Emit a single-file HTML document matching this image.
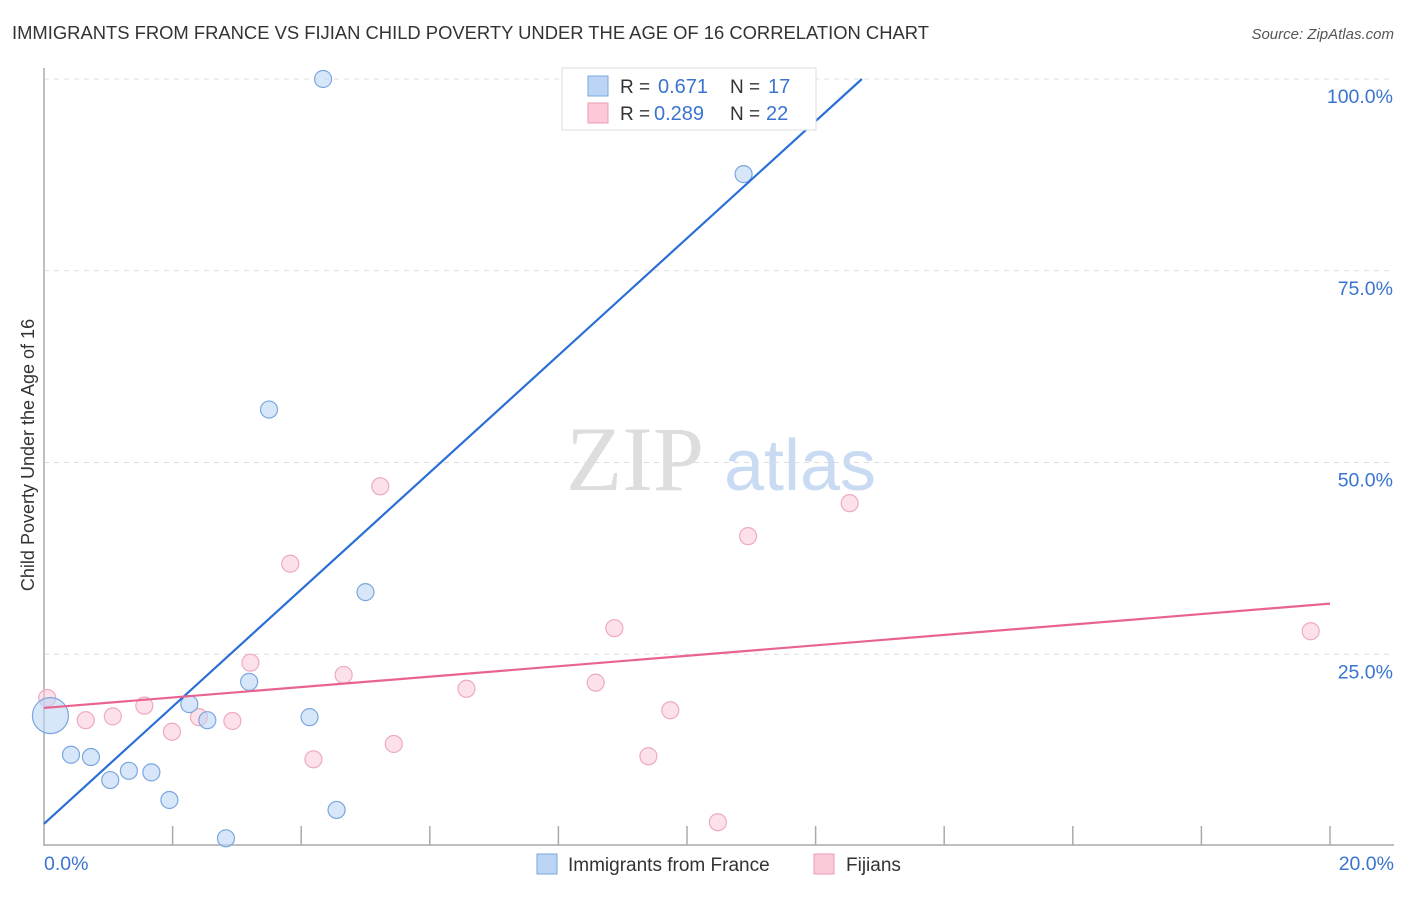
<!DOCTYPE html>
<html><head><meta charset="utf-8"><style>
body{margin:0;background:#fff;font-family:"Liberation Sans",sans-serif}
</style></head><body>
<svg width="1406" height="892" xmlns="http://www.w3.org/2000/svg" id="svg">
<text x="12" y="39" font-size="18.4" fill="#333">IMMIGRANTS FROM FRANCE VS FIJIAN CHILD POVERTY UNDER THE AGE OF 16 CORRELATION CHART</text>
<text x="1394" y="39" font-size="15" fill="#555" font-style="italic" text-anchor="end">Source: ZipAtlas.com</text>
<text transform="translate(34,455) rotate(-90)" font-size="18" fill="#333" text-anchor="middle">Child Poverty Under the Age of 16</text>
<g><text x="635" y="490" font-size="92" fill="#ddd" font-family="Liberation Serif" text-anchor="middle">ZIP</text><text x="800" y="490" font-size="72" fill="#c8dbf3" text-anchor="middle">atlas</text></g>
<g id="grid"></g><g id="marks"></g>
<g>
<rect x="562" y="68" width="254" height="62" fill="#fff" stroke="#ddd"/>
<rect x="588" y="76" width="20" height="20" fill="#bcd5f5" stroke="#7aa7e0"/>
<text x="620" y="93" font-size="19" fill="#333">R = </text><text x="658" y="93" font-size="20" fill="#3a74d0">0.671</text>
<text x="730" y="93" font-size="19" fill="#333">N = </text><text x="768" y="93" font-size="20" fill="#3a74d0">17</text>
<rect x="588" y="103" width="20" height="20" fill="#fbc9d8" stroke="#ee9ab5"/>
<text x="620" y="120" font-size="19" fill="#333">R = </text><text x="654" y="120" font-size="20" fill="#3a74d0">0.289</text>
<text x="730" y="120" font-size="19" fill="#333">N = </text><text x="766" y="120" font-size="20" fill="#3a74d0">22</text>
</g>
<g>
<rect x="537" y="854" width="20" height="20" fill="#bcd5f5" stroke="#7aa7e0"/>
<text x="568" y="871" font-size="19" fill="#333">Immigrants from France</text>
<rect x="814" y="854" width="20" height="20" fill="#fbc9d8" stroke="#ee9ab5"/>
<text x="846" y="871" font-size="19" fill="#333">Fijians</text>
</g>
</svg>
<script>
const yTicks=[25,50,75,100];
const yTickLabels=["25.0%","50.0%","75.0%","100.0%"];
const xTicks=[2,4,6,8,10,12,14,16,18,20];
const blueX=[4.34,10.88,3.50,5.00,3.19,2.26,2.54,4.13,0.42,0.73,1.32,1.67,1.03,1.95,4.55,2.83,0.1];
const blueY=[100,87.6,56.9,33.1,21.4,18.5,16.4,16.8,11.9,11.6,9.8,9.6,8.6,6.0,4.7,1.0,17.0];
const blueR=[8.5,8.5,8.5,8.5,8.5,8.5,8.5,8.5,8.5,8.5,8.5,8.5,8.5,8.5,8.5,8.5,18];
const pinkX=[0.05,0.65,1.07,1.56,1.99,2.41,2.93,3.21,3.83,4.19,4.66,5.23,5.44,6.57,8.58,8.87,9.40,9.74,10.48,10.95,12.53,19.70];
const pinkY=[19.3,16.4,16.9,18.3,14.9,16.8,16.3,23.9,36.8,11.3,22.3,46.9,13.3,20.5,21.3,28.4,11.7,17.7,3.1,40.4,44.7,28.0];
const blueLine=[0,2.9,12.72,100];
const pinkLine=[0,18.0,20,31.6];
const X=v=>44+v*64.3, Y=v=>846-v*7.67;
const NS="http://www.w3.org/2000/svg";
const g=document.getElementById('grid'), m=document.getElementById('marks');
function el(t,a,p){const e=document.createElementNS(NS,t);for(const k in a)e.setAttribute(k,a[k]);p.appendChild(e);return e;}
yTicks.forEach((t,i)=>{
 const l=el('line',{x1:44,x2:1394,y1:Y(t),y2:Y(t),stroke:'#ddd','stroke-dasharray':'5,5'},g);
 
 
 const tx=el('text',{x:1393,y:Y(t)+24,'font-size':19.5,fill:'#3a74d0','text-anchor':'end'},g);tx.textContent=yTickLabels[i];
 
 
});
el('line',{x1:44,x2:44,y1:68,y2:846,stroke:'#aaa','stroke-width':1.5},g);
el('line',{x1:44,x2:1394,y1:845,y2:845,stroke:'#aaa','stroke-width':1.5},g);
xTicks.forEach(t=>{const l=el('line',{x1:X(t),x2:X(t),y1:826,y2:845,stroke:'#aaa','stroke-width':1.5},g);
 
 });
let a=el('text',{x:44,y:870,'font-size':19.5,fill:'#3a74d0'},g);a.textContent='0.0%';


a=el('text',{x:1394,y:870,'font-size':19.5,fill:'#3a74d0','text-anchor':'end'},g);a.textContent='20.0%';


pinkX.forEach((x,i)=>{const c=el('circle',{cx:X(x),cy:Y(pinkY[i]),r:8.5,fill:'rgba(251,201,216,0.55)',stroke:'#eeaac0','stroke-width':1.2},m);
 
 });
blueX.forEach((x,i)=>{const c=el('circle',{cx:X(x),cy:Y(blueY[i]),r:blueR[i],fill:'rgba(188,213,245,0.6)',stroke:'#7aa7e0','stroke-width':1.2},m);
 
 });
let ln=el('line',{x1:X(blueLine[0]),y1:Y(blueLine[1]),x2:X(blueLine[2]),y2:Y(blueLine[3]),stroke:'#2a6fd6','stroke-width':2.2},m);


ln=el('line',{x1:X(pinkLine[0]),y1:Y(pinkLine[1]),x2:X(pinkLine[2]),y2:Y(pinkLine[3]),stroke:'#e8648f','stroke-width':2.2},m);


</script>
</body></html>
